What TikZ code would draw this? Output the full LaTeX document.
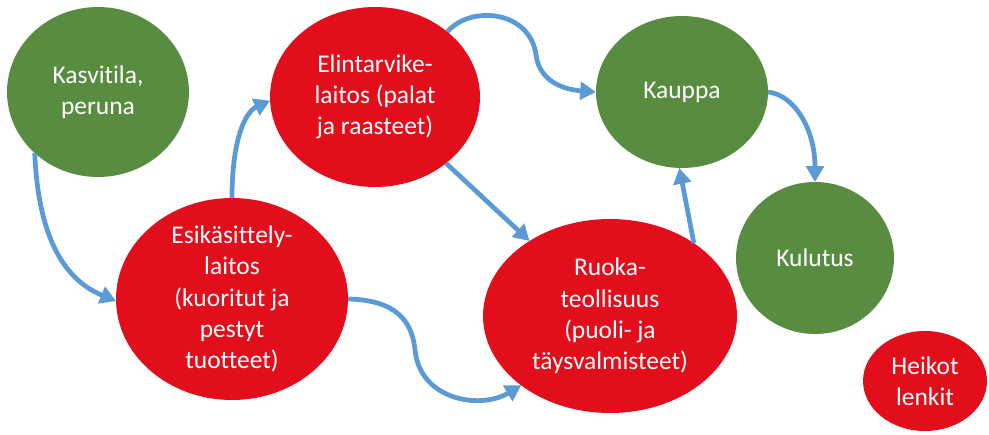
\documentclass[tikz,border=0pt]{standalone}
\usepackage{fontspec}
\setmainfont[Ligatures=NoCommon]{Carlito}
\usepackage{tikz}
\usetikzlibrary{
  shapes.geometric,
  arrows.meta
}
\usepackage{xcolor}
\definecolor{farmgreen}{HTML}{588C41}
\definecolor{weakred}{HTML}{E20E1C}
\definecolor{flowblue}{HTML}{5B9BD5}
\tikzset{
  blob/.style={
    ellipse, draw=none, fill=#1, inner sep=0pt, outer sep=0pt
  },
  blob/.default=farmgreen,
  lab/.style={
    text=white, align=center, inner sep=0pt,
    font=\fontsize{14.5}{17.8}\selectfont
  },
  flow/.style={-{Triangle[length=9pt, width=10pt]}, draw=flowblue, line width=2.7pt},
}

\begin{document}
\begin{tikzpicture}[x=0.02cm, y=-0.02cm]

\useasboundingbox (0,0) rectangle (989,435);

% Chain members
\node[blob, minimum width=3.64cm, minimum height=3.4cm, label={[lab]center:{Kasvitila,\\peruna}}] (kasvi) at (98,92) {};
\node[blob=weakred, minimum width=4.2cm, minimum height=3.6cm, label={[lab]center:{Elintarvike-\\laitos (palat\\ja raasteet)}}] (elin) at (375,97) {};
\node[blob=weakred, minimum width=4.64cm, minimum height=4.04cm, label={[lab]center:{Esikäsittely-\\laitos\\(kuoritut ja\\pestyt\\tuotteet)}}] (esik) at (232,299) {};
\node[blob=weakred, minimum width=5.08cm, minimum height=3.88cm, label={[lab]center:{Ruoka-\\teollisuus\\(puoli- ja\\täysvalmisteet)}}] (ruoka) at (610,316) {};
\node[blob, minimum width=3.44cm, minimum height=3.04cm, label={[lab]center:Kauppa}] (kauppa) at (682,92) {};
\node[blob, minimum width=3.16cm, minimum height=3.04cm, label={[lab]center:Kulutus}] (kulutus) at (815,258) {};

% Legend
\node[blob=weakred, minimum width=2.48cm, minimum height=2.0cm, label={[lab]center:{Heikot\\lenkit}}] (heikot) at (925,381) {};

% Flows
\draw[flow] (kasvi.224) .. controls (38,230) and (60,278) .. (esik.181);
\draw[flow] (esik.90) .. controls (232,140) and (245,112) .. (elin.182);
\draw[flow] (esik.0) .. controls (395,300) and (412,320) .. (415,350)
  .. controls (420,400) and (480,410) .. (ruoka.218);
\draw[flow] (elin.42) .. controls (470,5) and (530,10) .. (536,55)
  .. controls (540,85) and (570,90) .. (kauppa.180);
\draw[flow] (elin) -- (ruoka);
\draw[flow] (ruoka.41) -- (kauppa.268);
\draw[flow] (kauppa.0) .. controls (795,95) and (815,130) .. (kulutus.90);

\end{tikzpicture}
\end{document}
